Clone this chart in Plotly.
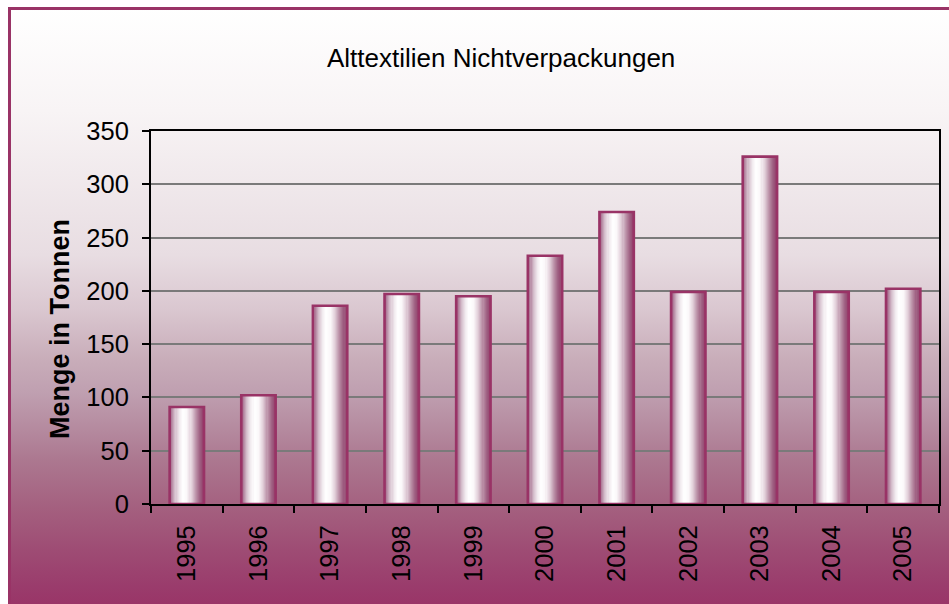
import base64
import plotly.graph_objects as go

# ---- data ----
years = ["1995", "1996", "1997", "1998", "1999", "2000", "2001", "2002", "2003", "2004", "2005"]
tonnen = [91, 102, 186, 197, 195, 233, 274, 199, 326, 199, 202]
title_text = "Alttextilien Nichtverpackungen"
y_title = "Menge in Tonnen"
y_ticks = [0, 50, 100, 150, 200, 250, 300, 350]

W, H = 949, 604
FONT = "Liberation Sans, Arial, sans-serif"
MAROON = "#993366"

# ---- background gradient (chart area) as SVG image ----
bg_stops = [
    (0.00, "#ffffff"), (0.17, "#f8f4f5"), (0.41, "#e8dde2"), (0.50, "#dac7d0"),
    (0.58, "#c9aeba"), (0.64, "#bf9fb0"), (0.75, "#ac7890"), (0.83, "#a4607f"),
    (0.90, "#9e4c74"), (0.96, "#9a3c6c"), (1.00, "#993366"),
]
stops_svg = "".join(f'<stop offset="{o}" stop-color="{c}"/>' for o, c in bg_stops)
svg = (
    f'<svg xmlns="http://www.w3.org/2000/svg" width="{W}" height="{H}" viewBox="0 0 {W} {H}" preserveAspectRatio="none">'
    f'<defs><linearGradient id="g" x1="0" y1="0" x2="0" y2="1">{stops_svg}</linearGradient></defs>'
    f'<rect x="0" y="0" width="{W}" height="{H}" fill="#ffffff"/>'
    f'<rect x="9.5" y="8.5" width="{W - 9.5 + 6}" height="{H - 8.5 + 6}" fill="url(#g)" stroke="{MAROON}" stroke-width="3"/>'
    '</svg>'
)
svg_uri = "data:image/svg+xml;base64," + base64.b64encode(svg.encode()).decode()

# ---- bar horizontal gradient via strips ----
bar_stops = [
    (0.00, (0x9c, 0x4e, 0x78)), (0.08, (0xb0, 0x80, 0x9c)), (0.18, (0xd6, 0xc0, 0xcd)),
    (0.30, (0xf2, 0xec, 0xf0)), (0.40, (0xff, 0xff, 0xff)), (0.52, (0xfb, 0xf8, 0xfa)),
    (0.65, (0xe2, 0xd0, 0xda)), (0.78, (0xbc, 0x92, 0xa8)), (0.90, (0x9f, 0x60, 0x82)),
    (1.00, (0x93, 0x44, 0x6e)),
]


def color_at(t):
    for (t0, c0), (t1, c1) in zip(bar_stops[:-1], bar_stops[1:]):
        if t0 <= t <= t1:
            f = (t - t0) / (t1 - t0) if t1 > t0 else 0
            r, g, b = (round(a + (bb - a) * f) for a, bb in zip(c0, c1))
            return f"rgb({r},{g},{b})"
    return "rgb(147,68,110)"


BW = 0.48
N = 32
fig = go.Figure()
for i in range(N):
    t = (i + 0.5) / N
    fig.add_trace(go.Bar(
        x=years, y=tonnen,
        width=BW / N * 1.25,
        offset=-BW / 2 + i * BW / N - (BW / N) * 0.1,
        marker=dict(color=color_at(t), line=dict(width=0)),
        showlegend=False, hoverinfo="skip",
    ))
fig.add_trace(go.Bar(
    x=years, y=tonnen, width=BW, offset=-BW / 2,
    marker=dict(color="rgba(0,0,0,0)", line=dict(color=MAROON, width=2.6)),
    showlegend=False,
))

fig.update_layout(
    width=W, height=H,
    margin=dict(l=0, r=0, t=0, b=0, autoexpand=False),
    paper_bgcolor=MAROON,
    plot_bgcolor="white",
    barmode="overlay",
    font=dict(family=FONT, size=25, color="black"),
    images=[dict(source=svg_uri, xref="paper", yref="paper", x=0, y=1,
                 sizex=1, sizey=1, sizing="stretch", xanchor="left", yanchor="top",
                 layer="below")],
    annotations=[
        dict(text=title_text, x=501 / W, y=1 - 58 / H, xref="paper", yref="paper",
             showarrow=False, xanchor="center", yanchor="middle",
             font=dict(family=FONT, size=26, color="black")),
        dict(text=f"<b>{y_title}</b>", x=60 / W, y=1 - 329 / H, xref="paper", yref="paper",
             showarrow=False, xanchor="center", yanchor="middle", textangle=-90,
             font=dict(family=FONT, size=27, color="black")),
    ],
    xaxis=dict(
        domain=[151 / W, 939 / W], automargin=False,
        type="category", categoryorder="array", categoryarray=years,
        tickson="boundaries", ticks="outside", ticklen=7, tickwidth=1.5, tickcolor="black",
        tickangle=-90, tickfont=dict(family=FONT, size=25.5, color="black"),
        showline=True, linecolor="black", linewidth=2, mirror=True,
        showgrid=False, ticklabelstandoff=9,
    ),
    yaxis=dict(
        domain=[1 - 504 / H, 1 - 131 / H], automargin=False,
        range=[0, 350], tickvals=y_ticks, ticktext=[str(v) for v in y_ticks],
        ticks="outside", ticklen=7, tickwidth=1.5, tickcolor="black",
        tickfont=dict(family=FONT, size=25.5, color="black"),
        showline=True, linecolor="black", linewidth=2, mirror=True,
        showgrid=True, gridcolor="#7a7a7a", gridwidth=1.5,
        zeroline=False, ticklabelstandoff=8,
    ),
)

fig.write_html(
    "out.html",
    config={"displayModeBar": False},
    post_script="document.body.style.margin='0';document.body.style.overflow='hidden';document.body.style.background='#993366';",
)
